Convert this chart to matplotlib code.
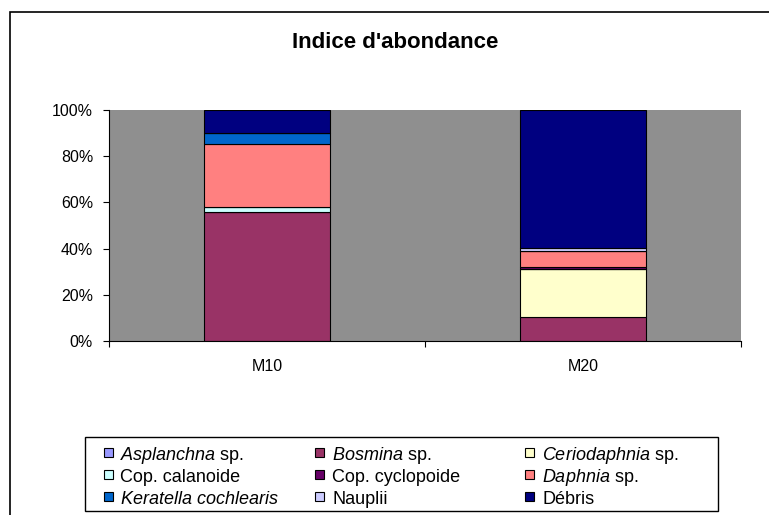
import numpy as np
import matplotlib
matplotlib.use('Agg')
from matplotlib import pyplot as plt
from matplotlib.patches import Rectangle

plt.rcParams['font.family'] = ['Liberation Sans', 'DejaVu Sans']
plt.rcParams['mathtext.fontset'] = 'custom'
plt.rcParams['mathtext.rm'] = 'Liberation Sans'
plt.rcParams['mathtext.it'] = 'Liberation Sans:italic'

# data (% of total, stacked bottom -> top)
stations = ['M10', 'M20']
species = [r'$\mathit{Asplanchna}$ sp.', r'$\mathit{Bosmina}$ sp.', r'$\mathit{Ceriodaphnia}$ sp.',
           'Cop. calanoide', 'Cop. cyclopoide', r'$\mathit{Daphnia}$ sp.',
           r'$\mathit{Keratella\ cochlearis}$', 'Nauplii', 'Débris']
asplanchna = [0.0, 0.0]
bosmina = [55.8, 10.5]
ceriodaphnia = [0.0, 20.5]
calanoide = [2.1, 0.0]
cyclopoide = [0.2, 1.0]
daphnia = [27.1, 7.0]
keratella = [5.0, 0.0]
nauplii = [0.0, 1.2]
debris = [9.8, 59.8]
colors = ['#9999FF', '#993366', '#FFFFCC', '#CCFFFF', '#660066',
          '#FF8080', '#0066CC', '#CCCCFF', '#000080']

series = [asplanchna, bosmina, ceriodaphnia, calanoide, cyclopoide,
          daphnia, keratella, nauplii, debris]

W, H = 769, 515
fig = plt.figure(figsize=(W / 100, H / 100), dpi=100)


def fx(px):
    return px / W


def fy(py):
    return 1 - py / H


# outer chart frame (right/bottom edges run off the picture)
fig.patches.append(Rectangle((fx(10), -0.1), 1.2, fy(12) + 0.1,
                             transform=fig.transFigure, fill=False,
                             edgecolor='black', linewidth=1.2))

ax = fig.add_axes([fx(109), fy(341), 632 / W, 231 / H])
ax.set_facecolor('#8F8F8F')

x = np.arange(len(stations))
bottom = np.zeros(len(stations))
for vals, col in zip(series, colors):
    vals = np.array(vals)
    ax.bar(x, vals, width=0.4, bottom=bottom, color=col,
           edgecolor='black', linewidth=0.8)
    bottom += vals

ax.set_xlim(-0.5, 1.5)
ax.set_ylim(0, 100)
ax.set_yticks(np.arange(0, 101, 20))
ax.set_yticklabels([f'{v}%' for v in range(0, 101, 20)], fontsize=11.5)
ax.tick_params(axis='y', direction='out', length=4.5, width=0.8, pad=7)

ax.set_xticks([-0.5, 0.5, 1.5])
ax.set_xticklabels([])
ax.tick_params(axis='x', direction='out', length=4.5, width=0.8)
ax.set_xticks(x, minor=True)
ax.set_xticklabels(stations, minor=True, fontsize=11.5)
ax.tick_params(axis='x', which='minor', length=0, pad=13)

for s in ['top', 'right']:
    ax.spines[s].set_visible(False)
ax.spines['left'].set_color('black')
ax.spines['bottom'].set_color('black')

fig.text(fx(395), fy(43), "Indice d'abondance", ha='center', va='center',
         fontsize=16, fontweight='bold')

# legend, filled row by row like the original
fig.patches.append(Rectangle((fx(85), fy(511)), (718 - 85) / W, (511 - 437) / H,
                             transform=fig.transFigure, facecolor='white',
                             edgecolor='black', linewidth=1.0))
col_sq = [104, 315, 525]
col_txt = [120, 332, 542]
row_base = [460, 482, 504]
for i, (lab, col) in enumerate(zip(species, colors)):
    r, c = divmod(i, 3)
    fig.patches.append(Rectangle((fx(col_sq[c]), fy(row_base[r] - 3)), 9 / W, 9 / H,
                                 transform=fig.transFigure, facecolor=col,
                                 edgecolor='black', linewidth=0.8))
    fig.text(fx(col_txt[c]), fy(row_base[r]), lab, ha='left', va='baseline',
             fontsize=13)

fig.savefig('out.png', dpi=100)
